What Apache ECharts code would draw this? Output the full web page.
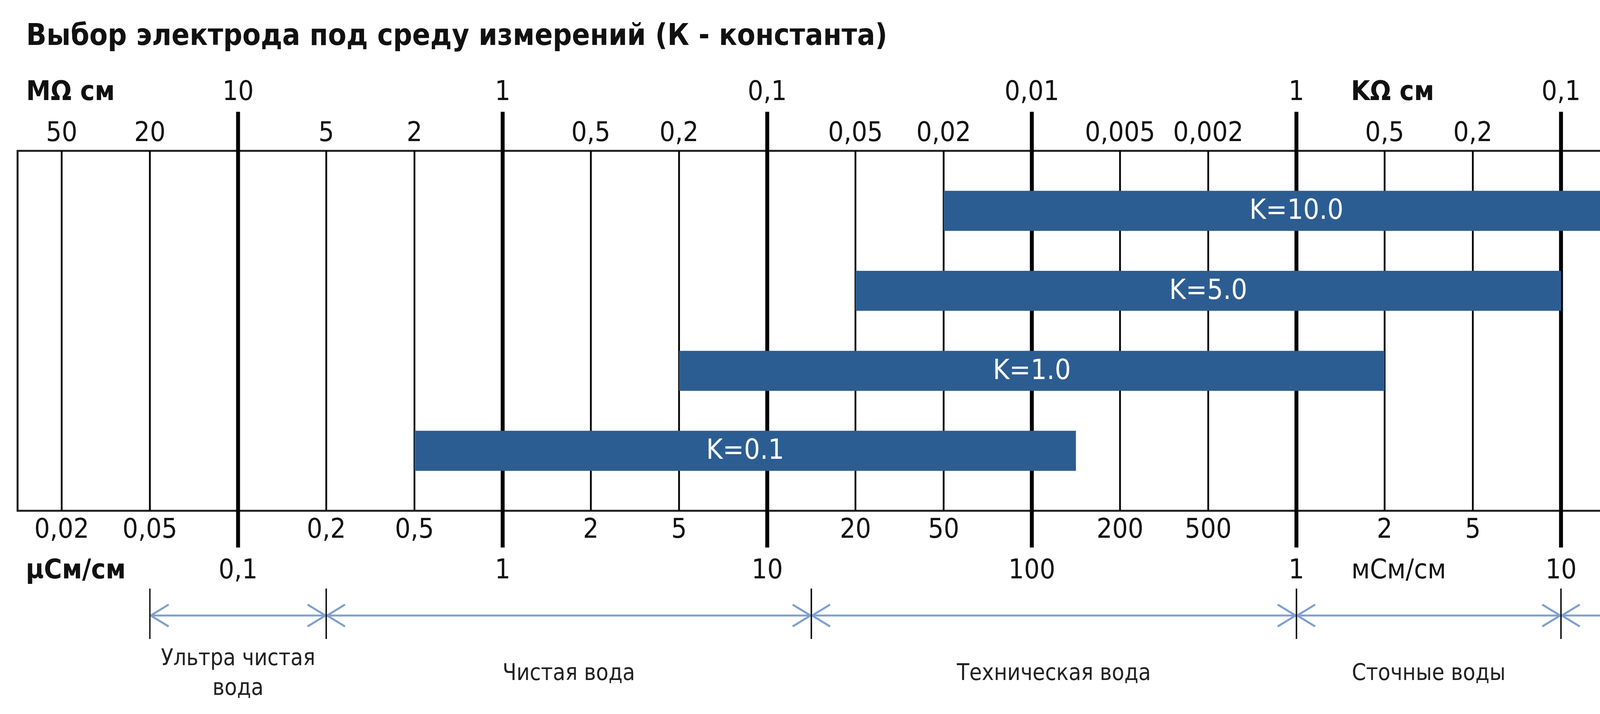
<!DOCTYPE html>
<html>
<head>
<meta charset="utf-8">
<script src="https://cdn.jsdelivr.net/npm/echarts@6/dist/echarts.min.js"></script>
<style>html,body{margin:0;padding:0;background:#fff;}#chart{width:5279px;height:1827px;}</style>
</head>
<body>
<div id="chart"></div>
<script>
// ---- data ----
const titleText = 'Выбор электрода под среду измерений (К - константа)';
// scale positions (equally spaced 1-2-5 steps)
const resistivity = ['50','20','10','5','2','1','0,5','0,2','0,1','0,05','0,02','0,01','0,005','0,002','1','0,5','0,2','0,1','0,05','0,02','0,01','0,005','0,002'];
const conductivity = ['0,02','0,05','0,1','0,2','0,5','1','2','5','10','20','50','100','200','500','1','2','5','10','20','50','100','200','500'];
const conductivityUS = [0.02,0.05,0.1,0.2,0.5,1,2,5,10,20,50,100,200,500,1000,2000,5000,10000,20000,50000,100000,200000,500000];
const unitsTop = ['MΩ см','KΩ см'];
const unitsBottom = ['µСм/см','мСм/см'];
// electrodes: measuring range in µS/cm
const electrodes = ['K=10.0','K=5.0','K=1.0','K=0.1'];
const rangeFrom = [50, 20, 5, 0.5];
const rangeTo = [20000, 10000, 2000, 150];
// application zones (boundaries in µS/cm, null = end of scale)
const zones = ['Ультра чистая\nвода','Чистая вода','Техническая вода','Сточные воды','Загрязненные растворы'];
const zoneBounds = [0.05, 0.2, 15, 1000, 10000, null];

// ---- helpers ----
const N = conductivityUS.length;
const X_MIN = -0.5, X_MAX = N - 0.5;
function pos(v){
  if (v === null) return X_MAX;
  for (let i = 0; i < N - 1; i++) {
    const a = conductivityUS[i], b = conductivityUS[i+1];
    if (v >= a && v <= b) return i + (v - a) / (b - a);
  }
  return X_MAX;
}
const isMajor = conductivityUS.map(v => Math.abs(Math.log10(v) - Math.round(Math.log10(v))) < 1e-9);
const majorIdx = [], minorIdx = [];
isMajor.forEach((m, i) => (m ? majorIdx : minorIdx).push(i));
const FONT = "'DejaVu Sans Condensed','DejaVu Sans',sans-serif";
const unitPosTop = [0.1, 15.09];
const unitPosBottom = [0.16, 15.16];

function labelAxis(position, offset, margin, values, fmt){
  return {
    type: 'value', gridIndex: 0, position: position, offset: offset,
    min: X_MIN, max: X_MAX,
    axisLine: {show: false}, axisTick: {show: false}, splitLine: {show: false},
    axisLabel: {
      show: true, customValues: values, margin: margin, verticalAlign: 'middle',
      color: '#111', fontSize: 70, fontFamily: FONT, formatter: fmt,
      rich: {b: {fontWeight: 'bold', fontSize: 70, fontFamily: FONT, color: '#111'},
             r: {fontSize: 70, fontFamily: FONT, color: '#111'}}
    }
  };
}
function near(v, arr){ return arr.findIndex(p => Math.abs(p - v) < 1e-6); }

const chart = echarts.init(document.getElementById('chart'), null, {renderer: 'canvas'});
const option = {
  animation: false,
  backgroundColor: '#fff',
  textStyle: {fontFamily: FONT},
  title: {text: titleText, left: 62, top: 52, textStyle: {fontSize: 76, fontWeight: 'bold', color: '#111', fontFamily: FONT}},
  grid: {left: 45, right: 41, top: 386, bottom: 520, show: true, borderColor: '#1e1e1e', borderWidth: 5, backgroundColor: '#fff'},
  xAxis: [
    {type: 'value', min: X_MIN, max: X_MAX, show: false},
    labelAxis('top', 0, 43, minorIdx, v => resistivity[Math.round(v)]),
    labelAxis('top', 105, 43, majorIdx.concat(unitPosTop), v => {
      const u = near(v, unitPosTop); return u >= 0 ? '{b|' + unitsTop[u] + '}' : resistivity[Math.round(v)];
    }),
    labelAxis('bottom', 0, 51, minorIdx, v => conductivity[Math.round(v)]),
    labelAxis('bottom', 104, 51, majorIdx.concat(unitPosBottom), v => {
      const u = near(v, unitPosBottom);
      if (u === 0) return '{b|' + unitsBottom[0] + '}';
      if (u === 1) return '{r|' + unitsBottom[1] + '}';
      return conductivity[Math.round(v)];
    })
  ],
  yAxis: {type: 'value', min: -0.75, max: 3.75, inverse: true, show: false},
  series: [
    {
      type: 'custom', name: 'scale', xAxisIndex: 0, yAxisIndex: 0, z: 2, silent: true,
      data: conductivityUS.map((v, i) => [i, isMajor[i] ? 1 : 0]),
      renderItem: function(params, api){
        const x = api.value(0), major = api.value(1) === 1;
        const t = api.coord([x, -0.75]), b = api.coord([x, 3.75]);
        return {type: 'line', shape: {x1: t[0], y1: t[1] - (major ? 100 : 0), x2: b[0], y2: b[1] + (major ? 94 : 0)},
                style: {stroke: '#000', lineWidth: major ? 10 : 4.5}};
      }
    },
    {
      type: 'custom', name: 'electrodes', xAxisIndex: 0, yAxisIndex: 0, z: 5, silent: true,
      data: electrodes.map((k, i) => [pos(rangeFrom[i]), pos(rangeTo[i]), i]),
      renderItem: function(params, api){
        const s = api.coord([api.value(0), api.value(2)]);
        const e = api.coord([api.value(1), api.value(2)]);
        const h = api.size([0, 0.5])[1];
        return {type: 'group', children: [
          {type: 'rect', shape: {x: s[0], y: s[1] - h/2, width: e[0] - s[0], height: h}, style: {fill: '#2c5d92'}},
          {type: 'text', x: (s[0] + e[0]) / 2, y: s[1] + 2, style: {text: electrodes[params.dataIndex], fill: '#fff',
            font: '72px ' + FONT, align: 'center', verticalAlign: 'middle'}}
        ]};
      }
    },
    {
      type: 'custom', name: 'zones', xAxisIndex: 0, yAxisIndex: 0, z: 5, silent: true,
      data: zones.map((z, i) => [pos(zoneBounds[i]), pos(zoneBounds[i+1])]),
      renderItem: function(params, api){
        const a = api.coord([api.value(0), 3.75]);
        const b = api.coord([api.value(1), 3.75]);
        const y = a[1] + 268;
        const col = '#7f9fd0';
        const ah = 48, aw = 28;
        return {type: 'group', children: [
          {type: 'line', shape: {x1: a[0], y1: y, x2: b[0], y2: y}, style: {stroke: col, lineWidth: 5}},
          {type: 'polyline', shape: {points: [[a[0] + ah, y - aw], [a[0] + 2, y], [a[0] + ah, y + aw]]}, style: {stroke: col, lineWidth: 5, fill: null}},
          {type: 'polyline', shape: {points: [[b[0] - ah, y - aw], [b[0] - 2, y], [b[0] - ah, y + aw]]}, style: {stroke: col, lineWidth: 5, fill: null}},
          {type: 'line', shape: {x1: a[0], y1: y - 69, x2: a[0], y2: y + 60}, style: {stroke: '#111', lineWidth: 3.5}},
          {type: 'line', shape: {x1: b[0], y1: y - 69, x2: b[0], y2: y + 60}, style: {stroke: '#111', lineWidth: 3.5}},
          {type: 'text', x: (a[0] + b[0]) / 2, y: a[1] + 418, style: {text: zones[params.dataIndex], fill: '#222',
            font: '58px ' + FONT, align: 'center', verticalAlign: 'middle', lineHeight: 76}}
        ]};
      }
    }
  ]
};
chart.setOption(option);
</script>
</body>
</html>
